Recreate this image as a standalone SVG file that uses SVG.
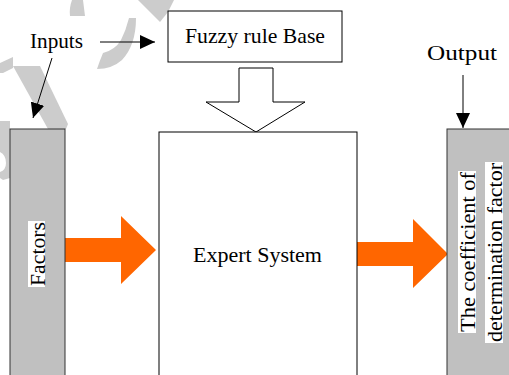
<svg xmlns="http://www.w3.org/2000/svg" width="509" height="375" viewBox="0 0 509 375">
  <style>
    text { font-family: 'Liberation Serif', 'DejaVu Serif', serif; font-size: 22px; fill: #000; }
    .box { fill: #fff; stroke: #000; stroke-width: 1; }
    .gray { fill: #c0c0c0; stroke: #333; stroke-width: 1; }
    .wm { fill: #cccccc; stroke: none; }
    .line { stroke: #000; stroke-width: 1; fill: none; }
    .orange { fill: #ff6600; stroke: none; }
    .hl { fill: #fff; stroke: none; }
  </style>
  <defs>
    <marker id="ah" viewBox="0 0 15 14" refX="15" refY="7" markerWidth="15" markerHeight="14" markerUnits="userSpaceOnUse" orient="auto">
      <path d="M0,0 L15,7 L0,14 Z" fill="#000"/>
    </marker>
  </defs>
  <rect width="509" height="375" fill="#fff"/>

  <g id="watermark">
    <path class="wm" d="M72,0 L83,0 L85,16 L70,16 Q69,8 72,0 Z"/>
    <path class="wm" d="M129,18 L136,18 Q136,45 122,60 Q112,69 97,69 Q100,60 103,53 Q115,50 121,40 Q126,30 129,18 Z"/>
    <path class="wm" d="M138,0 L174,0 L168,12 L160,22 Z"/>
    <path class="wm" d="M13,66 L40,66 L68,124 L66,129 L48,129 Z"/>
    <path class="wm" d="M0,63 L13,57 L13,68 L3,73 L0,73 Z"/>
    <path class="wm" d="M0,126 L6,130 L3,134 L0,134 Z"/>
    <path class="wm" d="M0,121 L10,121 L10,178 L3,180 L0,178 L0,172 Q6,170 6,163 Q6,155 0,152 Z"/>
  </g>

  <g id="connectors">
    <line class="line" x1="100" y1="42" x2="155" y2="42" marker-end="url(#ah)"/>
    <line class="line" x1="52" y1="58" x2="33" y2="118" marker-end="url(#ah)"/>
    <line class="line" x1="463" y1="75" x2="463" y2="128" marker-end="url(#ah)"/>
    <path id="rule-arrow" class="box" d="M239,68 L273,68 L273,102 L305,102 L256,132 L206,102 L239,102 Z"/>
    <path id="in-arrow" class="orange" d="M65,238 L121,238 L121,216 L156,250 L121,284 L121,262 L65,262 Z"/>
    <path id="out-arrow" class="orange" d="M357,242 L413,242 L413,219 L448,254 L413,288 L413,266 L357,266 Z"/>
  </g>

  <g id="inputs-label">
    <text font-family="Liberation Serif, serif" x="30" y="48" textLength="53" lengthAdjust="spacingAndGlyphs">Inputs</text>
  </g>

  <g id="output-label">
    <text font-family="Liberation Serif, serif" x="427" y="60" textLength="70" lengthAdjust="spacingAndGlyphs">Output</text>
  </g>

  <g id="fuzzy-rule-base">
    <rect class="box" x="168" y="11" width="174" height="51"/>
    <text font-family="Liberation Serif, serif" x="185" y="43" textLength="140" lengthAdjust="spacingAndGlyphs">Fuzzy rule Base</text>
  </g>

  <g id="expert-system">
    <rect class="box" x="159" y="132" width="198" height="260"/>
    <text font-family="Liberation Serif, serif" x="193" y="262" textLength="129" lengthAdjust="spacingAndGlyphs">Expert System</text>
  </g>

  <g id="factors">
    <rect class="gray" x="10" y="129" width="55" height="260"/>
    <rect class="hl" x="28" y="221" width="17" height="66"/>
    <text font-family="Liberation Serif, serif" transform="translate(44.5,286) rotate(-90)" x="0" y="0" textLength="64" lengthAdjust="spacingAndGlyphs">Factors</text>
  </g>

  <g id="coefficient">
    <rect class="gray" x="447" y="129" width="70" height="260"/>
    <rect class="hl" x="458" y="171" width="18" height="162"/>
    <rect class="hl" x="485" y="162" width="18" height="181"/>
    <text font-family="Liberation Serif, serif" transform="translate(475,332) rotate(-90)" x="0" y="0" textLength="160" lengthAdjust="spacingAndGlyphs">The coefficient of</text>
    <text font-family="Liberation Serif, serif" transform="translate(502,342) rotate(-90)" x="0" y="0" textLength="179" lengthAdjust="spacingAndGlyphs">determination factor</text>
  </g>
</svg>
